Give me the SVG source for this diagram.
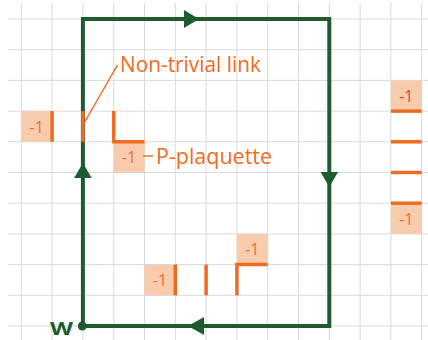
<svg xmlns="http://www.w3.org/2000/svg" width="428" height="340" viewBox="0 0 428 340">
<style>
.grid{stroke:#d9d9d9;stroke-width:1;fill:none}
.loop{stroke:#1e5b2f;stroke-width:4;fill:none;stroke-linejoin:miter}
.arr{fill:#1e5b2f}
.bar{stroke:#ef6b22;stroke-width:3.5;fill:none;stroke-linecap:butt;stroke-linejoin:miter}
.box{fill:#f8cbad}
.m1{font-family:"Open Sans","Liberation Sans",sans-serif;font-size:16px;fill:#ec6f2d;text-anchor:middle}
.lbl{font-family:"Open Sans","Liberation Sans",sans-serif;font-size:21px;fill:#ef6b22}
.lead{stroke:#ef6b22;stroke-width:1.5;fill:none}
</style>
<rect width="428" height="340" fill="#ffffff"/>
<g id="grid" class="grid">
<path d="M21.3 3V340M52.1 3V340M82.9 3V340M113.7 3V340M144.5 3V340M175.3 3V340M206.1 3V340M236.9 3V340M267.7 3V340M298.5 3V340M329.3 3V340M360.1 3V340M390.9 3V340M421.7 3V340"/>
<path d="M8 19H428M8 49.7H428M8 80.4H428M8 111.1H428M8 141.8H428M8 172.5H428M8 203.2H428M8 233.9H428M8 264.6H428M8 295.3H428M8 326H428"/>
</g>
<g id="connectors">
<path class="loop" d="M82.9 326V19H329.3V326Z"/>
<polygon class="arr" points="184,10 184,28 199,19"/>
<polygon class="arr" points="320.5,172 338.1,172 329.3,187"/>
<polygon class="arr" points="204,317 204,335 188,326"/>
<polygon class="arr" points="74.1,178 91.7,178 82.9,163"/>
<circle class="arr" cx="82.3" cy="326" r="4.5"/>
</g>
<g id="w-label">
<text x="50" y="334.5" font-family="'Open Sans','Liberation Sans',sans-serif" font-size="18" font-weight="bold" fill="#1e5b2f" textLength="23" lengthAdjust="spacingAndGlyphs">W</text>
</g>
<g id="left-link">
<rect class="box" x="21.3" y="111.1" width="30.8" height="30.7"/>
<text class="m1" x="36.7" y="132.5">-1</text>
<path class="bar" d="M52.1 111.1V141.8"/>
</g>
<g id="nontrivial-link">
<path class="bar" d="M82.9 111.1V141.8"/>
<path class="lead" d="M83 125L117.5 65"/>
<text class="lbl" x="120" y="72" textLength="141" lengthAdjust="spacingAndGlyphs">Non-trivial link</text>
</g>
<g id="p-plaquette">
<rect class="box" x="113.7" y="141.8" width="30.8" height="30.7"/>
<text class="m1" x="129.1" y="163.2">-1</text>
<path class="bar" d="M113.7 111.1V141.8H144.5"/>
<path class="lead" d="M143 156H153"/>
<text class="lbl" x="156" y="163.5" textLength="116" lengthAdjust="spacingAndGlyphs">P-plaquette</text>
</g>
<g id="right-top">
<rect class="box" x="390.9" y="80.4" width="30.8" height="30.7"/>
<text class="m1" x="406.3" y="101.8" style="fill:#e8402e">-1</text>
<path class="bar" d="M390.9 111.1H421.7"/>
</g>
<g id="right-mid1"><path class="bar" d="M390.9 141.8H421.7"/></g>
<g id="right-mid2"><path class="bar" d="M390.9 172.5H421.7"/></g>
<g id="right-bottom">
<rect class="box" x="390.9" y="203.2" width="30.8" height="30.7"/>
<text class="m1" x="406.3" y="224.6">-1</text>
<path class="bar" d="M390.9 203.2H421.7"/>
</g>
<g id="bottom-left">
<rect class="box" x="144.5" y="264.6" width="30.8" height="30.7"/>
<text class="m1" x="159.9" y="286">-1</text>
<path class="bar" d="M175.3 264.6V295.3"/>
</g>
<g id="bottom-mid"><path class="bar" d="M206.1 264.6V295.3"/></g>
<g id="bottom-right">
<rect class="box" x="236.9" y="233.9" width="30.8" height="30.7"/>
<text class="m1" x="252.3" y="255.3">-1</text>
<path class="bar" d="M236.9 295.3V264.6H267.7"/>
</g>
</svg>
